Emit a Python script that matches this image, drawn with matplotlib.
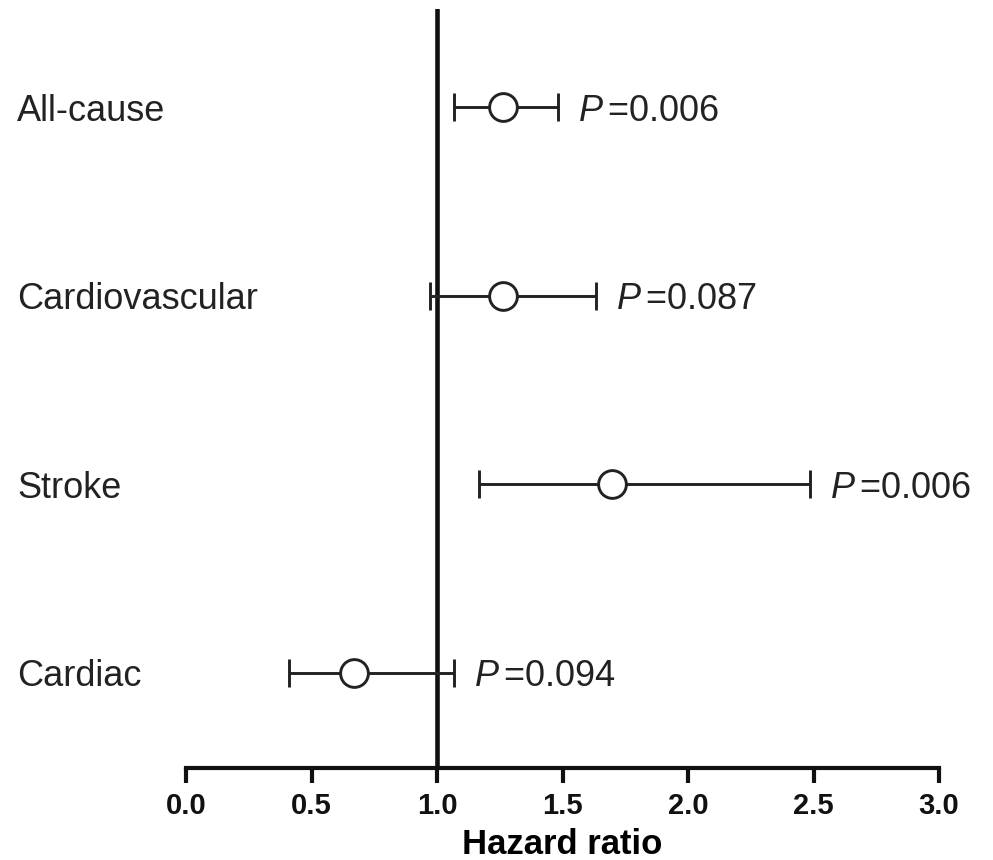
import matplotlib.pyplot as plt
from matplotlib.transforms import blended_transform_factory

plt.rcParams['font.family'] = ['Liberation Sans', 'DejaVu Sans']
plt.rcParams['mathtext.fontset'] = 'custom'
plt.rcParams['mathtext.it'] = 'Liberation Sans:italic'
plt.rcParams['mathtext.rm'] = 'Liberation Sans'

# outcomes, top to bottom
outcomes = ['All-cause', 'Cardiovascular', 'Stroke', 'Cardiac']
hr = [1.263, 1.263, 1.697, 0.669]
lower = [1.068, 0.972, 1.167, 0.410]
upper = [1.482, 1.633, 2.486, 1.068]
p_values = ['0.006', '0.087', '0.006', '0.094']

ypos = list(range(len(outcomes), 0, -1))

fig = plt.figure(figsize=(9.93, 8.6), dpi=100)
ax = fig.add_axes([186 / 993, 1 - 768 / 860, 753 / 993, 759 / 860])

ax.axvline(1.0, color='#111111', lw=3.3, zorder=1)

err_lo = [h - l for h, l in zip(hr, lower)]
err_hi = [u - h for h, u in zip(hr, upper)]
ax.errorbar(hr, ypos, xerr=[err_lo, err_hi], fmt='o', color='#222222',
            ecolor='#222222', elinewidth=2.1, capsize=10, capthick=2.1,
            markersize=20, markerfacecolor='white', markeredgecolor='#222222',
            markeredgewidth=2.1, zorder=3)

for y, u, p in zip(ypos, upper, p_values):
    ax.text(u + 0.08, y, r'$P\,$=' + p, fontsize=26, va='center_baseline',
            ha='left', color='#222222')

trans = blended_transform_factory(fig.transFigure, ax.transData)
for y, name in zip(ypos, outcomes):
    ax.text(17 / 993, y, name, fontsize=26, va='center_baseline', ha='left',
            color='#222222', transform=trans)

ax.set_xlim(0, 3.0)
ax.set_ylim(0.496, 4.52)
ax.set_xticks([0.0, 0.5, 1.0, 1.5, 2.0, 2.5, 3.0])
ax.set_xticklabels(['0.0', '0.5', '1.0', '1.5', '2.0', '2.5', '3.0'],
                   fontsize=21, fontweight='bold')
ax.set_yticks([])
ax.tick_params(axis='x', length=11, width=3, pad=6, colors='#111111')
ax.set_xlabel('Hazard ratio', fontsize=25, fontweight='bold', labelpad=6)

for side in ['top', 'right', 'left']:
    ax.spines[side].set_visible(False)
ax.spines['bottom'].set_linewidth(3)
ax.spines['bottom'].set_color('#111111')

fig.savefig('out.png', dpi=100)
